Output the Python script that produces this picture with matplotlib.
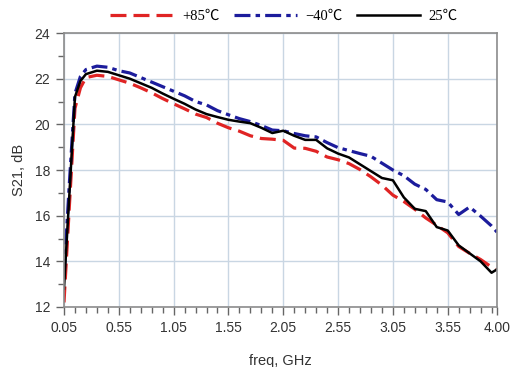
import numpy as np
import matplotlib
matplotlib.use("Agg")
import matplotlib.pyplot as plt
from matplotlib.ticker import FixedLocator

# frequency points (GHz)
freq = [0.05, 0.10, 0.15, 0.20, 0.25, 0.35, 0.45, 0.55, 0.65, 0.75, 0.85, 0.95,
        1.05, 1.15, 1.25, 1.35, 1.45, 1.55, 1.65, 1.75, 1.85, 1.95, 2.05, 2.15,
        2.25, 2.35, 2.45, 2.55, 2.65, 2.75, 2.85, 2.95, 3.05, 3.15, 3.25, 3.35,
        3.45, 3.55, 3.65, 3.75, 3.85, 3.95, 4.00]

# S21 en dB para cada temperatura
s21_85 = [12.2, 16.5, 20.7, 21.6, 22.05, 22.15, 22.1, 21.95, 21.8, 21.6, 21.38, 21.13,
          20.9, 20.68, 20.45, 20.3, 20.05, 19.85, 19.7, 19.5, 19.38, 19.35, 19.3, 18.96,
          18.95, 18.82, 18.57, 18.45, 18.28, 18.02, 17.7, 17.34, 16.9, 16.62, 16.28, 15.9,
          15.58, 15.25, 14.65, 14.35, 14.08, 13.75, 13.62]
s21_m40 = [13.4, 17.5, 21.35, 22.1, 22.4, 22.55, 22.5, 22.35, 22.25, 22.05, 21.85, 21.65,
           21.45, 21.25, 21.0, 20.85, 20.6, 20.42, 20.25, 20.12, 19.95, 19.75, 19.72, 19.6,
           19.5, 19.45, 19.2, 18.98, 18.85, 18.72, 18.6, 18.3, 18.0, 17.75, 17.38, 17.15,
           16.7, 16.6, 16.05, 16.38, 15.98, 15.55, 15.28]
s21_25 = [12.8, 17.0, 21.2, 21.9, 22.2, 22.35, 22.3, 22.15, 22.0, 21.8, 21.6, 21.35,
          21.12, 20.9, 20.65, 20.45, 20.32, 20.2, 20.12, 20.05, 19.85, 19.62, 19.72, 19.5,
          19.32, 19.32, 18.95, 18.72, 18.55, 18.25, 17.95, 17.65, 17.55, 16.8, 16.3, 16.2,
          15.5, 15.35, 14.7, 14.35, 14.0, 13.5, 13.65]

xticks = [0.05, 0.55, 1.05, 1.55, 2.05, 2.55, 3.05, 3.55, 4.00]
xlabels = ["0.05", "0.55", "1.05", "1.55", "2.05", "2.55", "3.05", "3.55", "4.00"]
yticks = [12, 14, 16, 18, 20, 22, 24]

fig = plt.figure(figsize=(5.14, 3.67), dpi=100)
ax = fig.add_axes([0.1245, 0.1635, 0.8425, 0.7465])

ax.plot(freq, s21_85, color="#e02424", lw=2.3, dashes=(5, 2.2), label="+85\u2103")
ax.plot(freq, s21_m40, color="#1c1c9c", lw=2.3, dashes=(5, 1.6, 1.4, 1.6), label="\u221240\u2103")
ax.plot(freq, s21_25, color="black", lw=1.8, label="25\u2103")

ax.set_xlim(0.05, 4.00)
ax.set_ylim(12, 24)
ax.xaxis.set_major_locator(FixedLocator(xticks))
ax.set_xticklabels(xlabels)
ax.xaxis.set_minor_locator(FixedLocator([0.15 + 0.1 * i for i in range(39)]))
ax.yaxis.set_major_locator(FixedLocator(yticks))
ax.yaxis.set_minor_locator(FixedLocator([13, 15, 17, 19, 21, 23]))

ax.grid(True, which="major", color="#c9d6e3", lw=1.0)
ax.set_axisbelow(True)
for s in ax.spines.values():
    s.set_color("#8c8c8c")
    s.set_linewidth(1.2)
ax.tick_params(which="major", length=6, width=1.0, color="#666666",
               labelsize=10, labelcolor="#333333", pad=4)
ax.tick_params(which="minor", length=4, width=1.0, color="#666666")
for lab in ax.get_xticklabels() + ax.get_yticklabels():
    lab.set_family("Liberation Sans")

ax.set_xlabel("freq, GHz", fontsize=10.5, family="Liberation Sans", color="#333333", labelpad=14)
ax.set_ylabel("S21, dB", fontsize=10.5, family="Liberation Sans", color="#333333", labelpad=6)

fig.legend(loc="upper center", bbox_to_anchor=(0.553, 1.01), ncol=3, frameon=False,
           handlelength=4.3, handletextpad=0.6, columnspacing=1.0,
           prop={"family": ["Liberation Serif", "Noto Sans CJK SC"], "size": 10.5})

fig.savefig("out.png", dpi=100, facecolor="white")
